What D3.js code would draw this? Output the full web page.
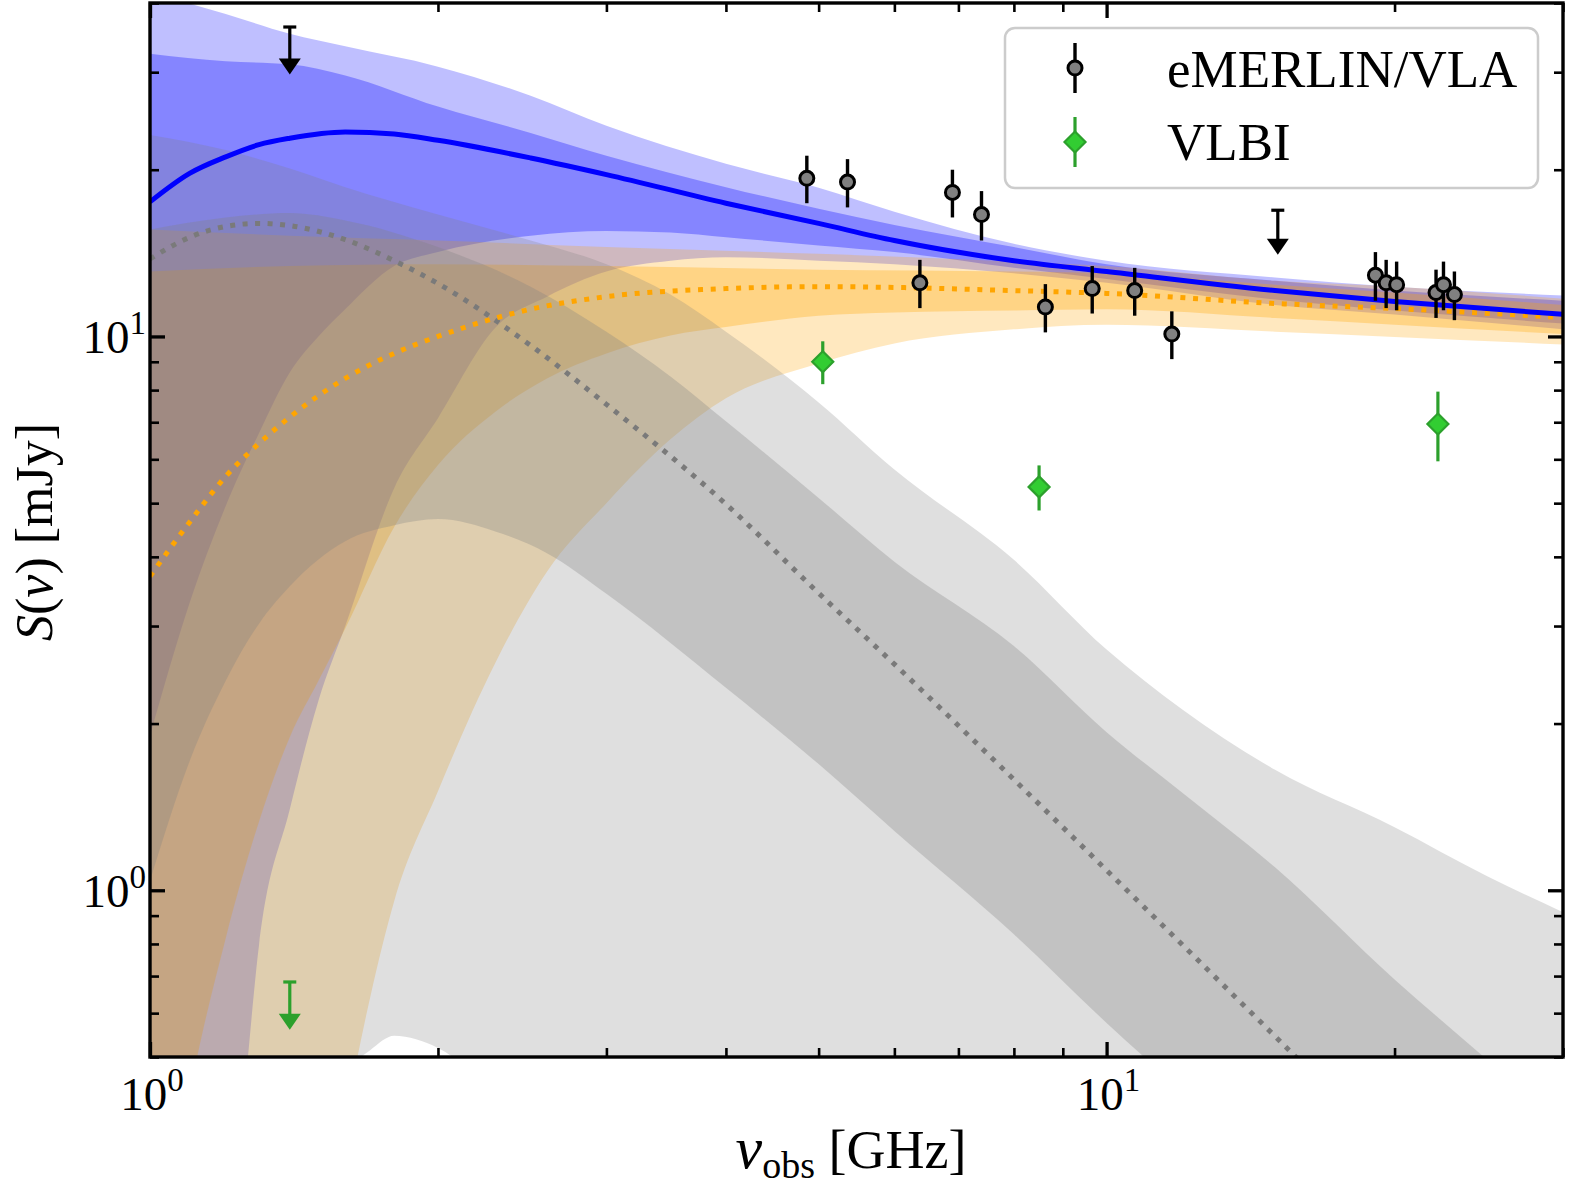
<!DOCTYPE html>
<html>
<head>
<meta charset="utf-8">
<script src="https://cdn.jsdelivr.net/npm/d3@7"></script>
<style>
  html, body { margin: 0; padding: 0; background: #fff; overflow: hidden; }
  svg { display: block; }
  text { font-family: "Liberation Serif", "DejaVu Serif", serif; fill: #000; }
</style>
</head>
<body>
<div id="chart"></div>
<script>
// Values: [frequency GHz, flux mJy]

// total model (blue)
const blueLine = [[1,17.5],[1.1,19.7],[1.2,21.1],[1.3,22.2],[1.4,22.8],[1.6,23.4],[1.8,23.2],[2,22.6],[2.5,21.0],[3,19.6],[4,17.4],[5,16.0],[6,14.9],[8,13.7],[10,13.1],[15,12.1],[20,11.56],[30,10.96]];
const blueOuterUp = [[1,41.8],[1.2,38.2],[1.4,35.2],[1.6,33.4],[2,30.7],[2.5,27.2],[3,24.0],[4,20.5],[5,18.56],[6,16.8],[8,14.7],[10,13.7],[15,12.78],[20,12.3],[30,11.86]];
const blueInnerUp = [[1,32.4],[1.2,31.4],[1.4,31.0],[1.6,29.6],[2,26.0],[2.5,23.3],[3,21.2],[4,18.6],[5,17.0],[6,15.9],[8,14.5],[10,13.5],[15,12.6],[20,12.1],[30,11.6]];
const blueInnerLo = [[1,1.90],[1.1,3.30],[1.2,4.94],[1.3,6.69],[1.4,8.61],[1.5,10.0],[1.6,11.2],[1.8,13.4],[2,14.2],[2.5,15.2],[3,15.5],[3.5,15.4],[4,15.1],[5,14.6],[6,14.2],[8,13.3],[10,12.7],[15,11.66],[20,11.14],[30,10.55]];
const blueOuterLo = [[1,0.05],[1.1,0.1],[1.2,0.225],[1.25,0.401],[1.3,0.796],[1.4,1.40],[1.5,2.20],[1.6,3.00],[1.8,5.32],[2,7.12],[2.3,10.4],[2.6,11.8],[3,13.1],[3.5,13.7],[4,13.9],[5,13.7],[6,13.5],[8,13.0],[10,12.5],[15,11.4],[20,10.96],[30,10.3]];

// optically thin component (orange)
const orangeLine = [[1,3.69],[1.1,4.62],[1.2,5.59],[1.3,6.41],[1.4,7.15],[1.6,8.40],[1.8,9.32],[2,10.0],[2.5,11.2],[3,11.8],[4,12.2],[5,12.3],[6,12.26],[8,12.1],[10,11.96],[15,11.47],[20,11.23],[30,10.82]];
const orangeOuterUp = [[1,15.6],[1.4,15.2],[2,14.9],[3,14.5],[5,14.1],[8,13.65],[10,13.4],[15,12.6],[20,12.3],[30,11.7]];
const orangeInnerUp = [[1,13.1],[1.4,13.4],[2,13.5],[3,13.4],[5,13.2],[8,13.1],[10,13.0],[15,12.4],[20,12.0],[30,11.4]];
const orangeInnerLo = [[1,0.15],[1.1,0.427],[1.2,0.819],[1.3,1.33],[1.4,1.89],[1.5,2.39],[1.6,2.97],[1.8,4.53],[2,5.86],[2.3,7.33],[2.6,8.40],[3,9.32],[3.5,10.04],[4,10.4],[5,10.9],[6,11.05],[8,11.14],[10,11.2],[15,10.8],[20,10.5],[30,10.1]];
const orangeOuterLo = [[1,0.01],[1.2,0.04],[1.5,0.2],[1.6,0.385],[1.7,0.644],[1.8,0.955],[2,1.51],[2.3,2.59],[2.6,3.76],[3,5.0],[3.5,6.52],[4,7.73],[5,8.94],[6,9.71],[8,10.3],[10,10.5],[15,10.2],[20,9.98],[30,9.67]];

// self-absorbed component (gray)
const grayLine = [[1,13.8],[1.1,15.1],[1.2,15.8],[1.3,16.0],[1.4,15.85],[1.6,14.96],[1.8,13.7],[2,12.46],[2.5,9.63],[3,7.54],[4,4.98],[5,3.44],[6,2.56],[8,1.585],[10,1.087],[15,0.545],[20,0.333]];
const grayOuterUp = [[1,23.1],[1.2,21.7],[1.4,20.1],[1.6,18.6],[2,16.6],[2.5,14.9],[3,13.5],[3.5,11.9],[4,10.2],[5,7.6],[6,5.75],[8,3.95],[10,2.72],[12,2.12],[15,1.65],[20,1.30],[25,1.06],[30,0.913]];
const grayInnerUp = [[1,15.6],[1.2,16.4],[1.4,16.7],[1.6,16.2],[2,14.5],[2.5,12.3],[3,10.2],[3.5,8.47],[4,7.03],[5,5.11],[6,3.92],[8,2.76],[10,1.93],[12,1.50],[15,1.10],[20,0.69],[25,0.494],[30,0.373]];
const grayInnerLo = [[1,1.04],[1.1,1.71],[1.2,2.39],[1.3,3.03],[1.4,3.54],[1.6,4.27],[1.8,4.56],[2,4.68],[2.3,4.44],[2.6,4.06],[3,3.43],[4,2.32],[5,1.69],[6,1.28],[8,0.833],[10,0.576],[12,0.433],[15,0.3],[20,0.18],[30,0.08]];
const grayOuterLo = [[1,0.15],[1.4,0.3],[1.6,0.47],[1.7,0.515],[1.8,0.546],[2,0.519],[2.2,0.464],[2.6,0.38],[3,0.3],[5,0.15],[10,0.05],[30,0.01]];

// measurements
const vlaFreq = [4.86, 5.36, 6.38, 6.9, 7.4, 8.63, 9.66, 10.7, 11.7, 19.1, 19.6, 20.1, 22.1, 22.5, 23.1];
const vlaFlux = [19.3, 19.0, 12.5, 18.2, 16.6, 11.3, 12.2, 12.1, 10.1, 12.9, 12.5, 12.4, 12.0, 12.4, 11.9];
const vlaErr  = [1.9, 1.9, 1.25, 1.8, 1.7, 1.13, 1.2, 1.2, 1.0, 1.3, 1.25, 1.25, 1.2, 1.25, 1.2];
const vlbiFreq = [5.05, 8.5, 22.2];
const vlbiFlux = [9.0, 5.35, 6.95];
const vlbiErr  = [0.8, 0.5, 1.0];

// upper limits (limit value, arrow tip)
const vlaLimFreq = [1.4, 15.1];
const vlaLimFlux = [36.2, 16.9];
const vlaLimTip  = [29.7, 14.05];
const vlbiLimFreq = [1.4];
const vlbiLimFlux = [0.683];
const vlbiLimTip  = [0.56];

// ticks
const xMajor = [1, 10];
const xMinor = [2, 3, 4, 5, 6, 7, 8, 9, 20, 30];
const yMajor = [1, 10];
const yMinor = [0.5, 0.6, 0.7, 0.8, 0.9, 2, 3, 4, 5, 6, 7, 8, 9, 20, 30, 40];
const xTickLabels = ["0", "1"];
const yTickLabels = ["0", "1"];

const legendLabels = ["eMERLIN/VLA", "VLBI"];

// ---- drawing ----
const width = 1579, height = 1193;
const pL = 150, pR = 1563, pT = 3, pB = 1057;

const x = d3.scaleLog().domain([1, 30]).range([pL, pR]);
const y = d3.scaleLog().domain([0.5, 40]).range([pB, pT]);

const svg = d3.select("#chart")
              .append("svg")
              .attr("width", width)
              .attr("height", height);

svg.append("defs").append("clipPath")
   .attr("id", "plotclip")
   .append("rect")
   .attr("x", pL).attr("y", pT)
   .attr("width", pR - pL).attr("height", pB - pT);

const plot = svg.append("g").attr("clip-path", "url(#plotclip)");

const line = d3.line()
               .x(d => x(d[0]))
               .y(d => y(d[1]))
               .curve(d3.curveMonotoneX);

// closed shape: upper edge forward, lower edge back
function band(upper, lower) {
    const a = line(upper);
    const b = line(lower.slice().reverse());
    return a + "L" + b.slice(1) + "Z";
}

const bands = [
    [blueOuterUp, blueOuterLo, "#0000ff", 0.25],
    [blueInnerUp, blueInnerLo, "#0000ff", 0.3],
    [orangeOuterUp, orangeOuterLo, "#ffa500", 0.25],
    [orangeInnerUp, orangeInnerLo, "#ffa500", 0.3],
    [grayOuterUp, grayOuterLo, "#808080", 0.25],
    [grayInnerUp, grayInnerLo, "#808080", 0.3]
];

bands.forEach(b => {
    plot.append("path")
        .attr("d", band(b[0], b[1]))
        .attr("fill", b[2])
        .attr("fill-opacity", b[3])
        .attr("stroke", "none");
});

// model curves
plot.append("path")
    .datum(grayLine)
    .attr("fill", "none")
    .attr("stroke", "#7a7a7a")
    .attr("stroke-width", 5)
    .attr("stroke-dasharray", "5,7.5")
    .attr("d", line);

plot.append("path")
    .datum(orangeLine)
    .attr("fill", "none")
    .attr("stroke", "#ffa500")
    .attr("stroke-width", 5)
    .attr("stroke-dasharray", "5,7.7")
    .attr("d", line);

plot.append("path")
    .datum(blueLine)
    .attr("fill", "none")
    .attr("stroke", "#0000ff")
    .attr("stroke-width", 5)
    .attr("d", line);

// upper limits
function upperLimit(g, f, v, tip, color) {
    const cx = x(f), y0 = y(v), y1 = y(tip);
    g.append("line")
     .attr("x1", cx).attr("x2", cx)
     .attr("y1", y0).attr("y2", y1 - 14)
     .attr("stroke", color).attr("stroke-width", 3.2);
    g.append("line")
     .attr("x1", cx - 6.5).attr("x2", cx + 6.5)
     .attr("y1", y0).attr("y2", y0)
     .attr("stroke", color).attr("stroke-width", 3.2);
    g.append("path")
     .attr("d", `M${cx - 11},${y1 - 16}L${cx + 11},${y1 - 16}L${cx},${y1}Z`)
     .attr("fill", color);
}

vlaLimFreq.forEach((f, i) => upperLimit(plot, f, vlaLimFlux[i], vlaLimTip[i], "#000"));
vlbiLimFreq.forEach((f, i) => upperLimit(plot, f, vlbiLimFlux[i], vlbiLimTip[i], "#2ca02c"));

// VLBI points
vlbiFreq.forEach((f, i) => {
    plot.append("line")
        .attr("x1", x(f)).attr("x2", x(f))
        .attr("y1", y(vlbiFlux[i] - vlbiErr[i]))
        .attr("y2", y(vlbiFlux[i] + vlbiErr[i]))
        .attr("stroke", "#2ca02c").attr("stroke-width", 3.2);
});
plot.selectAll(".vlbi")
    .data(vlbiFreq)
    .enter()
    .append("path")
    .attr("transform", (f, i) => `translate(${x(f)},${y(vlbiFlux[i])})`)
    .attr("d", "M0,-10.5L10.5,0L0,10.5L-10.5,0Z")
    .attr("fill", "#32cd32")
    .attr("stroke", "#2ca02c")
    .attr("stroke-width", 2.2);

// eMERLIN / VLA points
vlaFreq.forEach((f, i) => {
    plot.append("line")
        .attr("x1", x(f)).attr("x2", x(f))
        .attr("y1", y(vlaFlux[i] - vlaErr[i]))
        .attr("y2", y(vlaFlux[i] + vlaErr[i]))
        .attr("stroke", "#000").attr("stroke-width", 3.4);
});
plot.selectAll(".vla")
    .data(vlaFreq)
    .enter()
    .append("circle")
    .attr("cx", f => x(f))
    .attr("cy", (f, i) => y(vlaFlux[i]))
    .attr("r", 7)
    .attr("fill", "#808080")
    .attr("stroke", "#000")
    .attr("stroke-width", 3);

// ---- axes: ticks pointing in, on all four sides ----
function ticks(axis, vals, size, w, transform) {
    svg.append("g")
       .attr("transform", transform)
       .call(axis.tickValues(vals).tickSize(-size).tickFormat(""))
       .call(g => g.select(".domain").remove())
       .call(g => g.selectAll(".tick line").attr("stroke", "#000").attr("stroke-width", w));
}

ticks(d3.axisBottom(x), xMajor, 15, 3.3, `translate(0,${pB})`);
ticks(d3.axisBottom(x), xMinor, 9, 2.6, `translate(0,${pB})`);
ticks(d3.axisTop(x), xMajor, 15, 3.3, `translate(0,${pT})`);
ticks(d3.axisTop(x), xMinor, 9, 2.6, `translate(0,${pT})`);
ticks(d3.axisLeft(y), yMajor, 15, 3.3, `translate(${pL},0)`);
ticks(d3.axisLeft(y), yMinor, 9, 2.6, `translate(${pL},0)`);
ticks(d3.axisRight(y), yMajor, 15, 3.3, `translate(${pR},0)`);
ticks(d3.axisRight(y), yMinor, 9, 2.6, `translate(${pR},0)`);

svg.append("rect")
   .attr("x", pL).attr("y", pT)
   .attr("width", pR - pL).attr("height", pB - pT)
   .attr("fill", "none")
   .attr("stroke", "#000")
   .attr("stroke-width", 3.4);

// tick labels 10^n
xMajor.forEach((v, i) => {
    const t = svg.append("text")
                 .attr("x", x(v) + 2)
                 .attr("y", 1110)
                 .attr("text-anchor", "middle")
                 .style("font-size", "47px");
    t.append("tspan").text("10");
    t.append("tspan").attr("dy", -19).style("font-size", "33px").text(xTickLabels[i]);
});

yMajor.forEach((v, i) => {
    const t = svg.append("text")
                 .attr("x", 146)
                 .attr("y", y(v) + 17)
                 .attr("text-anchor", "end")
                 .style("font-size", "47px");
    t.append("tspan").text("10");
    t.append("tspan").attr("dy", -19).style("font-size", "33px").text(yTickLabels[i]);
});

// axis labels
const xl = svg.append("text")
              .attr("x", 851)
              .attr("y", 1168)
              .attr("text-anchor", "middle")
              .style("font-size", "54px");
xl.append("tspan").style("font-style", "italic").style("font-size", "60px").text("ν");
xl.append("tspan").attr("dy", 10).style("font-size", "38px").text("obs");
xl.append("tspan").attr("dy", -10).text(" [GHz]");

const yl = svg.append("text")
              .attr("transform", "translate(52,532) rotate(-90)")
              .attr("text-anchor", "middle")
              .style("font-size", "52px");
yl.append("tspan").style("font-style", "italic").text("S");
yl.append("tspan").text("(");
yl.append("tspan").style("font-style", "italic").text("ν");
yl.append("tspan").text(") [mJy]");

// legend
const lg = svg.append("g");
lg.append("rect")
  .attr("x", 1005).attr("y", 28)
  .attr("width", 533).attr("height", 160)
  .attr("rx", 10)
  .attr("fill", "#fff").attr("fill-opacity", 0.8)
  .attr("stroke", "#cccccc").attr("stroke-width", 2.5);

lg.append("line")
  .attr("x1", 1075).attr("x2", 1075).attr("y1", 43).attr("y2", 93)
  .attr("stroke", "#000").attr("stroke-width", 3.4);
lg.append("circle")
  .attr("cx", 1075).attr("cy", 68).attr("r", 7)
  .attr("fill", "#808080").attr("stroke", "#000").attr("stroke-width", 3);

lg.append("line")
  .attr("x1", 1075).attr("x2", 1075).attr("y1", 117).attr("y2", 167)
  .attr("stroke", "#2ca02c").attr("stroke-width", 3.2);
lg.append("path")
  .attr("transform", "translate(1075,142)")
  .attr("d", "M0,-10.5L10.5,0L0,10.5L-10.5,0Z")
  .attr("fill", "#32cd32").attr("stroke", "#2ca02c").attr("stroke-width", 2.2);

legendLabels.forEach((s, i) => {
    lg.append("text")
      .attr("x", 1167)
      .attr("y", 87 + i * 73)
      .style("font-size", "53px")
      .text(s);
});
</script>
</body>
</html>
